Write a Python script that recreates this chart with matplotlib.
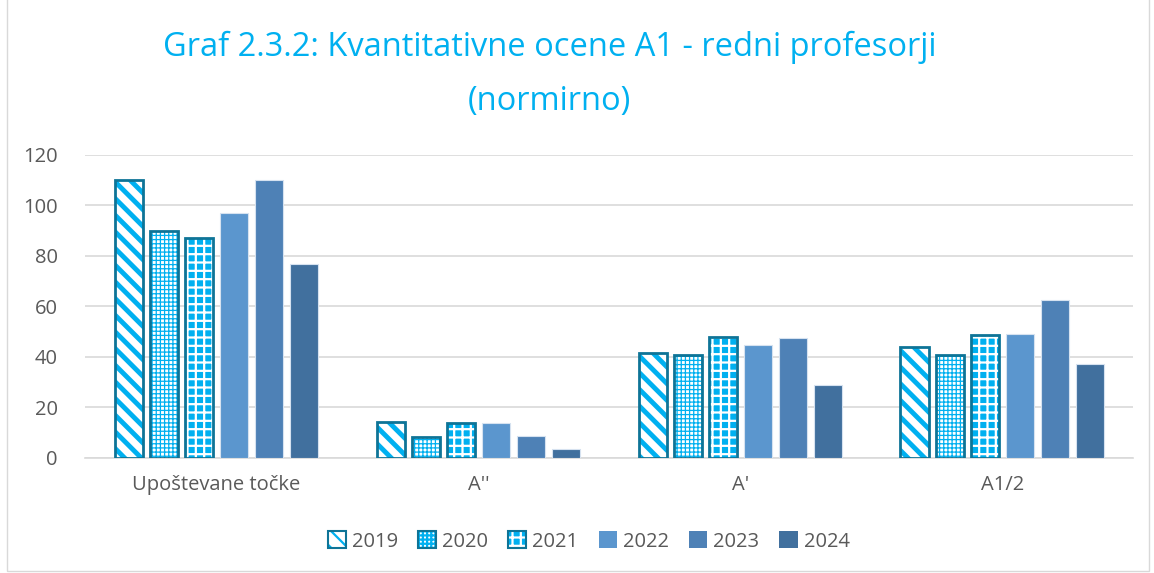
import numpy as np
import matplotlib.pyplot as plt
from matplotlib.patches import Rectangle
from matplotlib.legend_handler import HandlerTuple

plt.rcParams['font.family'] = ['Open Sans', 'DejaVu Sans']

categories = ['Upoštevane točke', "A''", "A'", 'A1/2']
years = ['2019', '2020', '2021', '2022', '2023', '2024']
v2019 = [110, 14.2, 41.5, 44]
v2020 = [90, 8.2, 40.8, 40.8]
v2021 = [87, 13.8, 48, 48.7]
v2022 = [97, 14, 44.7, 49]
v2023 = [110, 8.6, 47.5, 62.5]
v2024 = [76.8, 3.4, 28.8, 37.2]
series = [v2019, v2020, v2021, v2022, v2023, v2024]

cyan = '#00B0F0'
dark_edge = '#0E7497'
solid = ['#5B96CE', '#4E81B6', '#41709E']
# (face, hatch colour, hatch, hatch width)
patterns = [('white', cyan, '\\\\', 3.5),
            ('white', cyan, '++++', 0.9),
            (cyan, 'white', '++', 1.6)]

fig = plt.figure(figsize=(11.54, 5.73), dpi=100)
ax = fig.add_axes([0.074, 0.2007, 0.908, 0.5288])

x = np.arange(len(categories))
width = 0.107
pitch = 0.134
gray = '#595959'

handles = []
for i, vals in enumerate(series):
    pos = x + (i - 2.5) * pitch
    if i < 3:
        face, hc, hatch, hw = patterns[i]
        plt.rcParams['hatch.linewidth'] = hw
        ax.bar(pos, vals, width, color=face, edgecolor=hc, hatch=hatch,
               linewidth=0, zorder=3)
        ax.bar(pos, vals, width, fill=False, edgecolor=dark_edge, linewidth=2, zorder=4)
        h1 = Rectangle((0, 0), 1, 1, facecolor=face, edgecolor=hc, hatch=hatch, linewidth=0)
        h2 = Rectangle((0, 0), 1, 1, fill=False, edgecolor=dark_edge, linewidth=1.5)
        handles.append((h1, h2))
    else:
        ax.bar(pos, vals, width, color=solid[i - 3], edgecolor='#D6E2F0',
               linewidth=0.8, zorder=3)
        handles.append(Rectangle((0, 0), 1, 1, facecolor=solid[i - 3], edgecolor='none'))

ax.set_xlim(-0.5, 3.5)
ax.set_ylim(0, 120)
ax.set_yticks(range(0, 121, 20))
ax.set_xticks(x)
ax.set_xticklabels(categories)
ax.yaxis.grid(True, color='#D9D9D9', linewidth=1.2, zorder=0)
ax.set_axisbelow(True)
for s in ['top', 'right', 'left']:
    ax.spines[s].set_visible(False)
ax.spines['bottom'].set_color('#D9D9D9')
ax.spines['bottom'].set_linewidth(1.2)
ax.tick_params(axis='both', length=0, colors=gray, labelsize=14.5)
ax.tick_params(axis='x', pad=12)
ax.tick_params(axis='y', pad=20)

fig.text(0.476, 0.918, 'Graf 2.3.2: Kvantitativne ocene A1 - redni profesorji',
         ha='center', va='center', fontsize=23.5, color=cyan)
fig.text(0.476, 0.822, '(normirno)', ha='center', va='center', fontsize=23.5, color=cyan)

fig.legend(handles, years, loc='center', bbox_to_anchor=(0.51, 0.055), ncol=6,
           frameon=False, fontsize=14.5, labelcolor=gray, handlelength=0.9,
           handleheight=0.9, columnspacing=1.0, handletextpad=0.3,
           handler_map={tuple: HandlerTuple(ndivide=1, pad=0)})

fig.patches.append(Rectangle((0.006, 0.004), 0.99, 1.2, transform=fig.transFigure,
                             fill=False, edgecolor='#D9D9D9', linewidth=1))

fig.savefig('out.png', dpi=100)
